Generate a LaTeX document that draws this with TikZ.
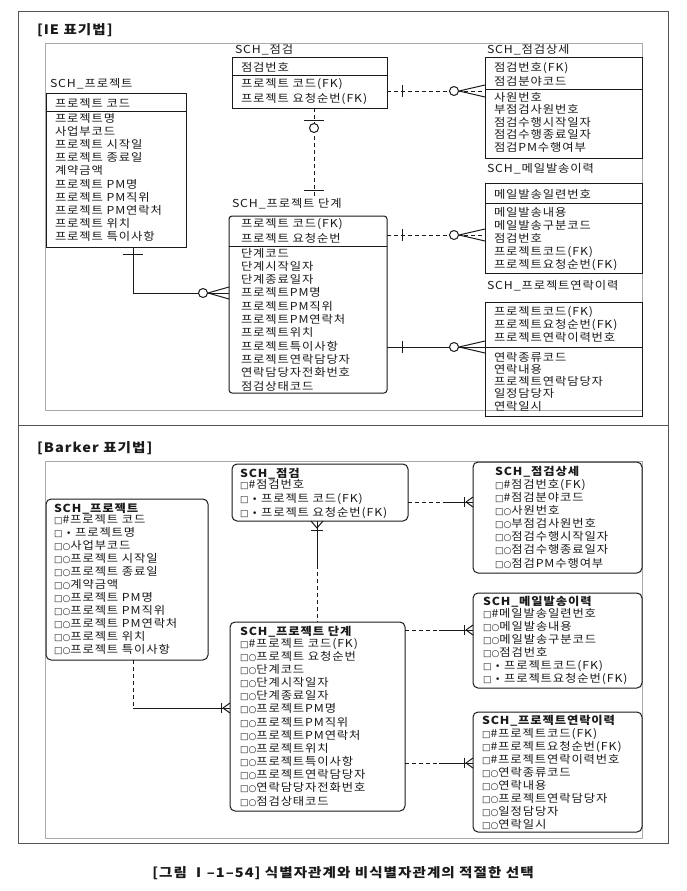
\documentclass[tikz,border=0pt]{standalone}
\usepackage{fontspec}
\usetikzlibrary{calc}
\newfontfamily\kr[FakeStretch=1.12,LetterSpace=8]{Noto Sans CJK KR}
\newfontfamily\dvs{DejaVu Sans}
\newcommand\sqb{{\dvs\fontsize{9}{9}\selectfont □}}
\newcommand\cib{{\dvs\fontsize{9}{9}\selectfont ○}}
\newcommand\dotb{{\dvs\fontsize{9}{9}\selectfont •}}
\definecolor{ink}{HTML}{1A1A1A}
\definecolor{frameout}{HTML}{555555}
\definecolor{framein}{HTML}{AAAAAA}
\newcommand\erows[5]{\foreach \t [count=\i] in {#5} {\node[row] (#1-\i) at (#2,{#3+4+(\i-1)*#4}) {\t};}}
\newcommand\iesym[1]{%
  \draw[conn] (402,{#1-6}) -- (402,{#1+6});
  \draw[conn,fill=white] (454,#1) circle (4.5);
  \draw[conn] (459,#1) -- (485,{#1-6}) (459,#1) -- (485,{#1+6});}
\newcommand\bksym[1]{%
  \draw[conn] (464,{#1-5}) -- (464,{#1+5});
  \draw[conn] (466,#1) -- (473,{#1-5}) (466,#1) -- (473,{#1+5});}
\begin{document}
\begin{tikzpicture}[x=1pt,y=-1pt,
  row/.style={anchor=base west, inner sep=0pt, outer sep=0pt, font=\kr\fontsize{11}{13}\selectfont, text=ink},
  ttl/.style={row, font=\kr\bfseries\fontsize{11}{13}\selectfont},
  ent/.style={draw=ink, line width=1pt, anchor=north west, inner sep=0pt, outer sep=0pt},
  bent/.style={ent, rounded corners=5pt},
  dsh/.style={dash pattern=on 4pt off 3pt},
  conn/.style={draw=ink, line width=1pt},
]
\useasboundingbox (0,0) rectangle (687,891);
\fill[white] (0,0) rectangle (687,891);
% frames
\draw[frameout, line width=1pt] (18,12) rectangle (668,843);
\draw[frameout, line width=1pt] (18,425) -- (668,425);
\draw[framein, line width=0.8pt] (45,43) rectangle (642,410);
\draw[framein, line width=0.8pt] (45,461) rectangle (642,838);
\node[row, font=\kr\bfseries\fontsize{13}{15}\selectfont] (t1) at (37,35) {[IE 표기법]};
\node[row, font=\kr\bfseries\fontsize{13}{15}\selectfont] (t2) at (37,452) {[Barker 표기법]};

% ===== IE =====
\node[row] (Pl) at (50,88) {SCH\_프로젝트};
\node[ent, minimum width=140pt, minimum height=154pt] (P) at (46,93) {};
\draw[conn] (P.west|-0,111) -- (P.east|-0,111);
\node[row] (P-h) at (55,107) {프로젝트 코드};
\erows{P}{55}{118}{13.2}{프로젝트명, 사업부코드, 프로젝트 시작일, 프로젝트 종료일, 계약금액, 프로젝트 PM명, 프로젝트 PM직위, 프로젝트 PM연락처, 프로젝트 위치, 프로젝트 특이사항}

\node[row] (Jl) at (235,54) {SCH\_점검};
\node[ent, minimum width=155pt, minimum height=50pt] (J) at (232,58) {};
\draw[conn] (J.west|-0,75) -- (J.east|-0,75);
\node[row] (J-h) at (241,71) {점검번호};
\erows{J}{241}{83}{15}{프로젝트 코드(FK), 프로젝트 요청순번(FK)}

\node[row] (Dl) at (232,207) {SCH\_프로젝트 단계};
\node[ent, rounded corners=3pt, minimum width=158pt, minimum height=177pt] (D) at (229,216) {};
\draw[conn] (D.west|-0,246) -- (D.east|-0,246);
\erows{Dh}{241}{223}{15}{프로젝트 코드(FK), 프로젝트 요청순번}
\erows{D}{241}{253}{13.3}{단계코드, 단계시작일자, 단계종료일자, 프로젝트PM명, 프로젝트PM직위, 프로젝트PM연락처, 프로젝트위치, 프로젝트특이사항, 프로젝트연락담당자, 연락담당자전화번호, 점검상태코드}

\node[row] (JSl) at (487,54) {SCH\_점검상세};
\node[ent, minimum width=157pt, minimum height=100pt] (JS) at (485,58) {};
\draw[conn] (JS.west|-0,89) -- (JS.east|-0,89);
\erows{JSh}{494}{67}{14}{점검번호(FK), 점검분야코드}
\erows{JS}{494}{97}{12.5}{사원번호, 부점검사원번호, 점검수행시작일자, 점검수행종료일자, 점검PM수행여부}

\node[row] (Ml) at (487,172) {SCH\_메일발송이력};
\node[ent, minimum width=157pt, minimum height=90pt] (M) at (485,183) {};
\draw[conn] (M.west|-0,203) -- (M.east|-0,203);
\node[row] (M-h) at (494,198) {메일발송일련번호};
\erows{M}{494}{212}{13}{메일발송내용, 메일발송구분코드, 점검번호, 프로젝트코드(FK), 프로젝트요청순번(FK)}

\node[row] (Cl) at (487,289) {SCH\_프로젝트연락이력};
\node[ent, minimum width=157pt, minimum height=114pt] (C) at (485,302) {};
\draw[conn] (C.west|-0,347) -- (C.east|-0,347);
\erows{Ch}{494}{311}{13}{프로젝트코드(FK), 프로젝트요청순번(FK), 프로젝트연락이력번호}
\erows{C}{494}{357}{12.3}{연락종류코드, 연락내용, 프로젝트연락담당자, 일정담당자, 연락일시}

% IE connectors
\draw[conn,dsh] (J.east|-0,91) -- (JS.west|-0,91);
\iesym{91}
\draw[conn,dsh] (D.east|-0,235) -- (M.west|-0,235);
\iesym{235}
\draw[conn] (D.east|-0,347) -- (C.west|-0,347);
\iesym{347}
\draw[conn,dsh] (314,0|-J.south) -- (314,0|-Dl.north);
\draw[conn] (304,120) -- (324,120);
\draw[conn,fill=white] (314,128) circle (4.5);
\draw[conn] (304,190) -- (324,190);
\draw[conn] (133,0|-P.south) |- (D.west|-0,293);
\draw[conn] (123,254) -- (143,254);
\draw[conn,fill=white] (203,293) circle (4.5);
\draw[conn] (208,293) -- (229,287) (208,293) -- (229,299);

% ===== Barker =====
\node[bent, minimum width=162pt, minimum height=161pt] (BP) at (46,499) {};
\node[ttl] (BP-t) at (54,512) {SCH\_프로젝트};
\erows{BP}{54}{519}{13}{\sqb\#프로젝트 코드, \sqb\ \dotb\ 프로젝트명, \sqb\cib{}사업부코드, \sqb\cib{}프로젝트 시작일, \sqb\cib{}프로젝트 종료일, \sqb\cib{}계약금액, \sqb\cib{}프로젝트 PM명, \sqb\cib{}프로젝트 PM직위, \sqb\cib{}프로젝트 PM연락처, \sqb\cib{}프로젝트 위치, \sqb\cib{}프로젝트 특이사항}

\node[bent, minimum width=176pt, minimum height=57pt] (BJ) at (232,464) {};
\node[ttl] (BJ-t) at (240,477) {SCH\_점검};
\erows{BJ}{240}{484}{14}{\sqb\#점검번호, \sqb\ \dotb\ 프로젝트 코드(FK), \sqb\ \dotb\ 프로젝트 요청순번(FK)}

\node[bent, minimum width=175pt, minimum height=189pt] (BD) at (230,622) {};
\node[ttl] (BD-t) at (240,635) {SCH\_프로젝트 단계};
\erows{BD}{240}{643}{13.17}{\sqb\#프로젝트 코드(FK), \sqb\cib{}프로젝트 요청순번, \sqb\cib{}단계코드, \sqb\cib{}단계시작일자, \sqb\cib{}단계종료일자, \sqb\cib{}프로젝트PM명, \sqb\cib{}프로젝트PM직위, \sqb\cib{}프로젝트PM연락처, \sqb\cib{}프로젝트위치, \sqb\cib{}프로젝트특이사항, \sqb\cib{}프로젝트연락담당자, \sqb\cib{}연락담당자전화번호, \sqb\cib{}점검상태코드}

\node[bent, minimum width=169pt, minimum height=111pt] (BJS) at (473,462) {};
\node[ttl] (BJS-t) at (495,475) {SCH\_점검상세};
\erows{BJS}{495}{484}{13.17}{\sqb\#점검번호(FK), \sqb\#점검분야코드, \sqb\cib{}사원번호, \sqb\cib{}부점검사원번호, \sqb\cib{}점검수행시작일자, \sqb\cib{}점검수행종료일자, \sqb\cib{}점검PM수행여부}

\node[bent, minimum width=169pt, minimum height=95pt] (BM) at (473,593) {};
\node[ttl] (BM-t) at (483,605) {SCH\_메일발송이력};
\erows{BM}{483}{613}{13}{\sqb\#메일발송일련번호, \sqb\cib{}메일발송내용, \sqb\cib{}메일발송구분코드, \sqb\cib{}점검번호, \sqb\ \dotb\ 프로젝트코드(FK), \sqb\ \dotb\ 프로젝트요청순번(FK)}

\node[bent, minimum width=169pt, minimum height=120pt] (BC) at (473,712) {};
\node[ttl] (BC-t) at (482,724) {SCH\_프로젝트연락이력};
\erows{BC}{482}{733}{13}{\sqb\#프로젝트코드(FK), \sqb\#프로젝트요청순번(FK), \sqb\#프로젝트연락이력번호, \sqb\cib{}연락종류코드, \sqb\cib{}연락내용, \sqb\cib{}프로젝트연락담당자, \sqb\cib{}일정담당자, \sqb\cib{}연락일시}

% Barker connectors
\coordinate (a1) at (BJ.east|-0,502);
\coordinate (b1) at (BJS.west|-0,502);
\draw[conn,dsh] (a1) -- ($(a1)!0.55!(b1)$);
\draw[conn] ($(a1)!0.55!(b1)$) -- (b1);
\bksym{502}
\coordinate (a2) at (BD.east|-0,630);
\coordinate (b2) at (BM.west|-0,630);
\draw[conn,dsh] (a2) -- ($(a2)!0.5!(b2)$);
\draw[conn] ($(a2)!0.5!(b2)$) -- (b2);
\bksym{630}
\coordinate (a3) at (BD.east|-0,763);
\coordinate (b3) at (BC.west|-0,763);
\draw[conn,dsh] (a3) -- ($(a3)!0.5!(b3)$);
\draw[conn] ($(a3)!0.5!(b3)$) -- (b3);
\bksym{763}
\coordinate (a4) at (317,0|-BJ.south);
\coordinate (b4) at (317,0|-BD.north);
\coordinate (m4) at (317,565);
\draw[conn] (a4) -- (m4);
\draw[conn,dsh] (m4) -- (b4);
\draw[conn] (311,521) -- (317,528) -- (323,521);
\draw[conn] (311,530) -- (323,530);
\coordinate (a5) at (133,0|-BP.south);
\coordinate (m5) at (133,708);
\coordinate (b5) at (BD.west|-0,708);
\draw[conn,dsh] (a5) -- (m5);
\draw[conn] (m5) -- (b5);
\draw[conn] (221,703) -- (221,713);
\draw[conn] (223,708) -- (230,703) (223,708) -- (230,713);

% caption
\node[row, anchor=center, font=\kr\bfseries\fontsize{13}{15}\selectfont] (cap) at (343,873) {[그림 Ⅰ–1–54] 식별자관계와 비식별자관계의 적절한 선택};
\end{tikzpicture}
\end{document}
